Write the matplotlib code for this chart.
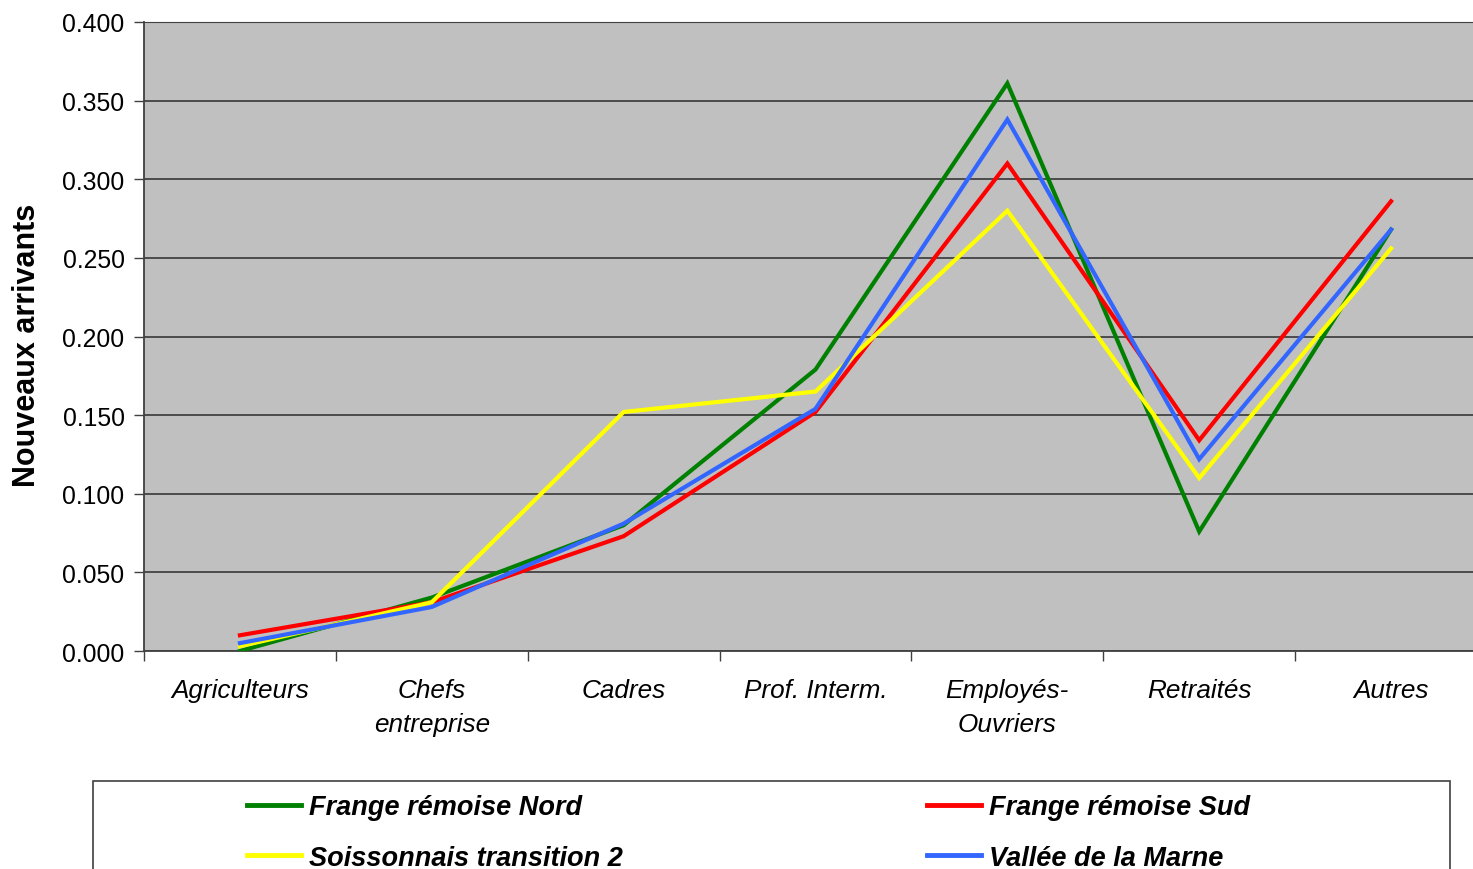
import matplotlib
matplotlib.use("Agg")
import matplotlib.pyplot as plt
from matplotlib.patches import Rectangle
import numpy as np

plt.rcParams['font.family'] = ['Liberation Sans', 'DejaVu Sans']

categories = ["Agriculteurs", "Chefs\nentreprise", "Cadres", "Prof. Interm.",
              "Employés-\nOuvriers", "Retraités", "Autres"]
series_names = ["Frange rémoise Nord", "Frange rémoise Sud",
                "Soissonnais transition 2", "Vallée de la Marne"]
nord = [0.000, 0.034, 0.080, 0.179, 0.361, 0.076, 0.268]
sud = [0.010, 0.031, 0.073, 0.152, 0.310, 0.134, 0.286]
soissonnais = [0.003, 0.031, 0.152, 0.165, 0.280, 0.110, 0.256]
vallee = [0.005, 0.028, 0.081, 0.154, 0.338, 0.122, 0.268]
colors = ["#008000", "#FF0000", "#FFFF00", "#3366FF"]
yticks = [0.0, 0.05, 0.1, 0.15, 0.2, 0.25, 0.3, 0.35, 0.4]

W, H = 1473, 870
fig = plt.figure(figsize=(W / 100, H / 100), dpi=100)
left, right, top, bottom = 144, 1487, 23, 652
ax = fig.add_axes([left / W, 1 - bottom / H, (right - left) / W, (bottom - top) / H])
ax.set_facecolor("#C0C0C0")

x = np.arange(len(categories))
lines = []
for vals, c, name in zip([nord, sud, soissonnais, vallee], colors, series_names):
    ln, = ax.plot(x, vals, color=c, lw=3.0, label=name, solid_joinstyle='miter', zorder=3)
    lines.append(ln)

ax.set_xlim(-0.5, len(categories) - 0.5)
ax.set_ylim(0, 0.4)
ax.set_yticks(yticks)
ax.set_yticklabels([f"{v:.3f}" for v in yticks], fontsize=17.8)
ax.yaxis.grid(True, color="#383838", lw=1.2, zorder=1)
ax.set_axisbelow(True)

# category boundary ticks (major) and labels at centers (minor)
ax.set_xticks(np.arange(-0.5, len(categories) + 0.5, 1.0))
ax.set_xticklabels([])
ax.set_xticks(x, minor=True)
ax.set_xticklabels(categories, minor=True, fontsize=18.8, style='italic', linespacing=1.5, va='top')
ax.tick_params(axis='x', which='major', length=7, width=1, direction='out', color='#404040')
ax.tick_params(axis='x', which='minor', length=0, pad=19.5)
ax.tick_params(axis='y', length=7, width=1, direction='out', color='#404040', pad=7)

ax.spines['right'].set_visible(False)
for s in ['top', 'left', 'bottom']:
    ax.spines[s].set_color('#404040')
ax.spines['left'].set_linewidth(1.3)
ax.spines['bottom'].set_linewidth(1.3)

ax.set_ylabel("Nouveaux arrivants", fontsize=22, fontweight='bold', va='center')
ax.yaxis.set_label_coords((27 - left) / (right - left), (bottom - 345) / (bottom - top))

# legend frame
fl, ftop, fr, fbot = 93, 782, 1450, 900
fig.patches.append(Rectangle((fl / W, 1 - fbot / H), (fr - fl) / W, (fbot - ftop) / H,
                             transform=fig.transFigure, facecolor='white',
                             edgecolor='#404040', lw=1.2, zorder=0))

common = dict(frameon=False, handlelength=2.0, handletextpad=0.3,
              labelspacing=0.92, borderpad=0, borderaxespad=0, loc='upper left',
              prop=dict(weight='bold', style='italic', size=19.5))
for idx, xpos in [((0, 2), 247), ((1, 3), 927)]:
    hs = [lines[i] for i in idx]
    leg = fig.legend(hs, [series_names[i] for i in idx],
                     bbox_to_anchor=(xpos / W, 1 - 795 / H), **common)
    for h in leg.legend_handles:
        h.set_linewidth(3.5)

fig.savefig("out.png", dpi=100)
